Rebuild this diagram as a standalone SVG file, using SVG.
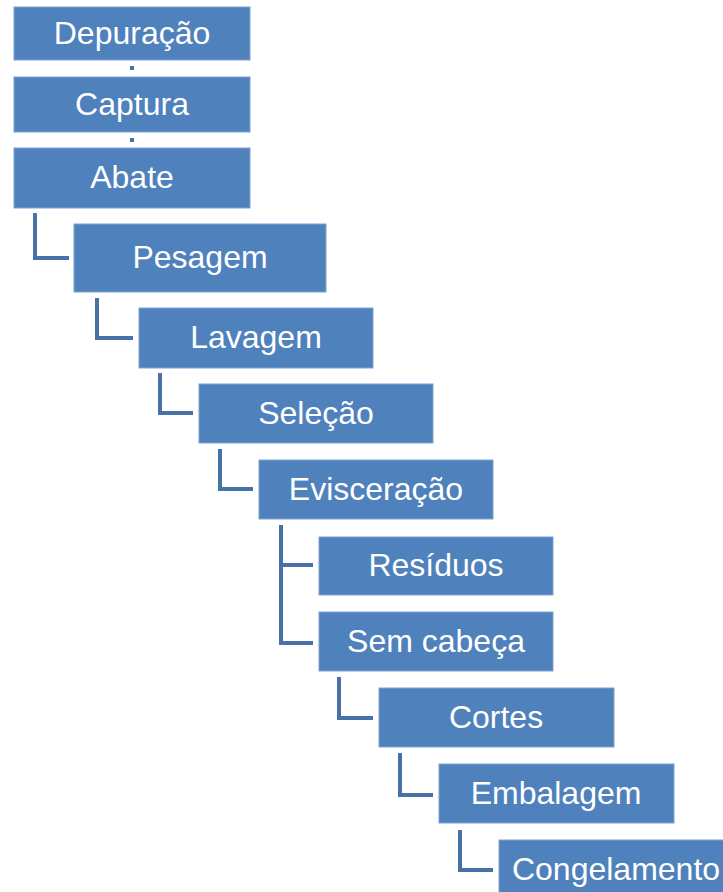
<svg xmlns="http://www.w3.org/2000/svg" width="723" height="892" viewBox="0 0 723 892">
<style>
.box{fill:#4F81BD;stroke:#7FA2CF;stroke-width:1}
.lbl{fill:#fff;font-family:"Liberation Sans",Arial,sans-serif;font-size:32px;text-anchor:middle}
.con{fill:none;stroke:#4672A8;stroke-width:4}
</style>
<rect width="723" height="892" fill="#fff"/>
<g id="connectors">
<path class="con" d="M132 66V70"/>
<path class="con" d="M132 138V142"/>
<path class="con" d="M35 213V258H69"/>
<path class="con" d="M97 298V338H133"/>
<path class="con" d="M160 373V413H193"/>
<path class="con" d="M220 449V489H253"/>
<path class="con" d="M281 525V643H313M281 565H313"/>
<path class="con" d="M339 677V718H373"/>
<path class="con" d="M400 753V795H433"/>
<path class="con" d="M460 830V870H493"/>
</g>
<g id="depuracao"><rect class="box" x="14" y="7" width="236" height="53"/><text class="lbl" x="132" y="44">Depuração</text></g>
<g id="captura"><rect class="box" x="14" y="77" width="236" height="55"/><text class="lbl" x="132" y="115">Captura</text></g>
<g id="abate"><rect class="box" x="14" y="148" width="236" height="60"/><text class="lbl" x="132" y="188">Abate</text></g>
<g id="pesagem"><rect class="box" x="74" y="224" width="252" height="68"/><text class="lbl" x="200" y="268">Pesagem</text></g>
<g id="lavagem"><rect class="box" x="139" y="308" width="234" height="60"/><text class="lbl" x="256" y="348">Lavagem</text></g>
<g id="selecao"><rect class="box" x="199" y="384" width="234" height="59"/><text class="lbl" x="316" y="424">Seleção</text></g>
<g id="evisceracao"><rect class="box" x="259" y="460" width="234" height="59"/><text class="lbl" x="376" y="500">Evisceração</text></g>
<g id="residuos"><rect class="box" x="319" y="537" width="234" height="58"/><text class="lbl" x="436" y="576">Resíduos</text></g>
<g id="semcabeca"><rect class="box" x="319" y="612" width="234" height="59"/><text class="lbl" x="436" y="652">Sem cabeça</text></g>
<g id="cortes"><rect class="box" x="379" y="688" width="235" height="59"/><text class="lbl" x="496" y="728">Cortes</text></g>
<g id="embalagem"><rect class="box" x="439" y="764" width="235" height="59"/><text class="lbl" x="556" y="804">Embalagem</text></g>
<g id="congelamento"><rect class="box" x="499" y="840" width="235" height="60"/><text class="lbl" x="616" y="880">Congelamento</text></g>
</svg>
